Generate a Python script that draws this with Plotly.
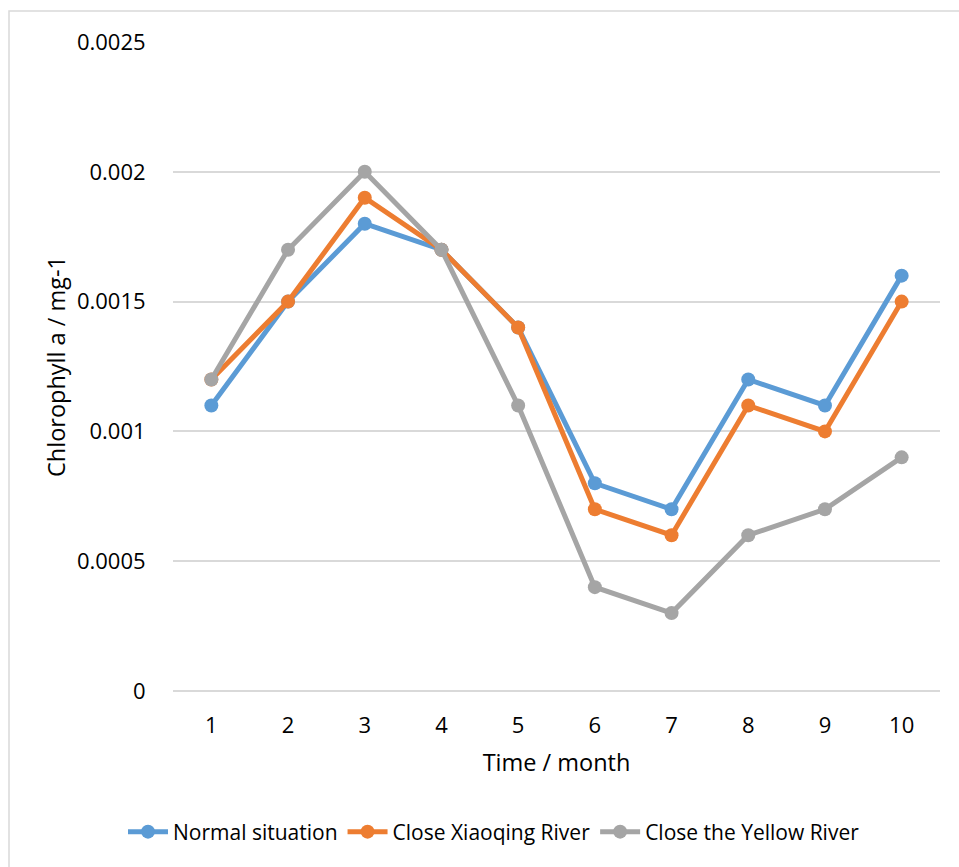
import plotly.graph_objects as go

# Monthly chlorophyll a under three river scenarios
months = [1, 2, 3, 4, 5, 6, 7, 8, 9, 10]
normal = [0.0011, 0.0015, 0.0018, 0.0017, 0.0014, 0.0008, 0.0007, 0.0012, 0.0011, 0.0016]
close_xiaoqing = [0.0012, 0.0015, 0.0019, 0.0017, 0.0014, 0.0007, 0.0006, 0.0011, 0.0010, 0.0015]
close_yellow = [0.0012, 0.0017, 0.0020, 0.0017, 0.0011, 0.0004, 0.0003, 0.0006, 0.0007, 0.0009]

y_ticks = [0, 0.0005, 0.001, 0.0015, 0.002, 0.0025]
y_tick_text = ["0", "0.0005", "0.001", "0.0015", "0.002", "0.0025"]

series = [
    ("Normal situation", normal, "#5B9BD5"),
    ("Close Xiaoqing River", close_xiaoqing, "#ED7D31"),
    ("Close the Yellow River", close_yellow, "#A5A5A5"),
]

FONT = "Open Sans, Noto Sans, DejaVu Sans, sans-serif"

fig = go.Figure()
for name, vals, color in series:
    fig.add_trace(go.Scatter(
        x=months, y=vals, name=name, mode="lines+markers",
        line=dict(color=color, width=5),
        marker=dict(color=color, size=14),
    ))

W, H = 959, 867
L, R, T, B = 173, 19, 42, 176
pw, ph = W - L - R, H - T - B

fig.update_layout(
    width=W, height=H,
    margin=dict(l=L, r=R, t=T, b=B, pad=0),
    paper_bgcolor="white", plot_bgcolor="white",
    font=dict(family=FONT, color="#000000", size=22),
    showlegend=True,
    legend=dict(
        orientation="h", x=(494 - L) / pw, xanchor="center",
        y=(H - B - 832) / ph, yanchor="middle",
        font=dict(size=21, family=FONT, color="#000000"),
        itemwidth=40, tracegroupgap=0,
    ),
    xaxis=dict(
        range=[0.5, 10.5], tickmode="array", tickvals=months,
        ticktext=[str(m) for m in months],
        showgrid=False, zeroline=False, showline=False,
        ticks="outside", ticklen=15, tickcolor="rgba(0,0,0,0)",
        tickfont=dict(size=22, family=FONT),
        title=dict(text="Time / month", font=dict(size=23.5, family=FONT), standoff=16),
    ),
    yaxis=dict(
        range=[0, 0.0025], tickmode="array", tickvals=y_ticks, ticktext=y_tick_text,
        showgrid=True, gridcolor="#D9D9D9", gridwidth=1.5,
        zeroline=True, zerolinecolor="#D9D9D9", zerolinewidth=1.5,
        showline=False,
        ticks="outside", ticklen=22, tickcolor="rgba(0,0,0,0)",
        tickfont=dict(size=22, family=FONT),
        title=dict(text="Chlorophyll a / mg-1", font=dict(size=23.5, family=FONT), standoff=4),
    ),
)

# Chart-area frame
fig.add_shape(
    type="rect", xref="paper", yref="paper",
    x0=(9 - L) / pw, x1=1.2, y0=-0.6, y1=(H - B - 11) / ph,
    line=dict(color="#D9D9D9", width=1.5), fillcolor="rgba(0,0,0,0)", layer="below",
)

fig.write_html("out.html")
